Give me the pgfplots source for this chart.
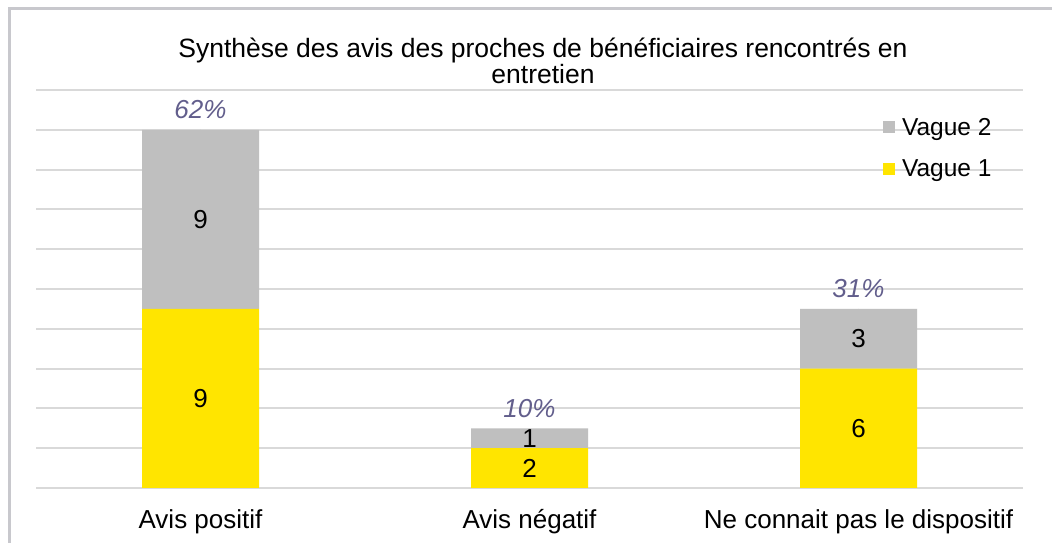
\documentclass[border=0pt]{standalone}
\usepackage{pgfplots}
\pgfplotsset{compat=1.18}
\usepackage{pgfplotstable}
\usepackage{fontspec}
\setmainfont{Liberation Sans}

\definecolor{vagueun}{RGB}{255,229,0}
\definecolor{vaguedeux}{RGB}{191,191,191}
\definecolor{gridgray}{RGB}{217,217,217}
\definecolor{framegray}{RGB}{200,200,205}
\definecolor{pctcolor}{RGB}{98,94,140}

% Effectifs par vague
\pgfplotstableread{
x v1 v2
0 9 9
1 2 1
2 6 3
}\effectifs

% Positions des etiquettes (milieu des segments)
\pgfplotstableread{
x y lab
0 4.5 9
1 1 2
2 3 6
0 13.5 9
1 2.5 1
2 7.5 3
}\etiquettes

% Totaux et parts
\pgfplotstableread{
x y lab
0 18 62\%
1 3 10\%
2 9 31\%
}\totaux

\begin{document}
\begin{tikzpicture}[x=1pt,y=1pt]
\useasboundingbox (0,0) rectangle (1052,543);
\fill[white] (0,0) rectangle (1052,543);
\draw[framegray, line width=3pt] (9,0) -- (9,534) -- (1052,534);

\node[align=center, font=\fontsize{26.5}{26.5}\selectfont] at (543,482)
  {Synthèse des avis des proches de bénéficiaires rencontrés en\\entretien};

\begin{axis}[
  at={(36pt,55pt)}, anchor=south west,
  scale only axis, width=987pt, height=398pt,
  ybar stacked, bar width=117pt,
  xmin=-0.5, xmax=2.5, ymin=0, ymax=20,
  xtick={0,1,2},
  xticklabels={Avis positif, Avis négatif, Ne connait pas le dispositif},
  ytick={0,2,...,20}, yticklabels={},
  ymajorgrids,
  major grid style={gridgray, line width=2pt},
  axis line style={draw=none},
  major tick length=0pt,
  tick label style={font=\fontsize{26}{28}\selectfont},
  xticklabel style={yshift=-18pt},
  reverse legend,
  legend style={at={(0.858,0.935)}, anchor=north west, draw=none, fill=none,
    inner sep=0pt, row sep=19pt, font=\fontsize{24.5}{26}\selectfont,
    /tikz/every odd column/.append style={column sep=5pt}},
  legend image code/.code={\fill[#1] (0pt,-6pt) rectangle (12pt,6pt);},
]
\addplot[fill=vagueun, draw=none] table[x=x, y=v1] {\effectifs};
\addlegendentry{Vague 1}
\addplot[fill=vaguedeux, draw=none] table[x=x, y=v2] {\effectifs};
\addlegendentry{Vague 2}
\end{axis}

\begin{axis}[
  at={(36pt,55pt)}, anchor=south west,
  scale only axis, width=987pt, height=398pt,
  xmin=-0.5, xmax=2.5, ymin=0, ymax=20,
  hide axis, clip=false,
]
\addplot[only marks, mark=*, mark size=0pt, mark options={draw=none, fill=none},
  nodes near coords, point meta=explicit symbolic,
  every node near coord/.style={anchor=center, font=\fontsize{26}{28}\selectfont, text=black}]
  table[x=x, y=y, meta=lab] {\etiquettes};
\addplot[only marks, mark=*, mark size=0pt, mark options={draw=none, fill=none},
  nodes near coords, point meta=explicit symbolic,
  every node near coord/.style={anchor=base, yshift=11pt, font=\fontsize{26}{28}\selectfont\itshape, text=pctcolor}]
  table[x=x, y=y, meta=lab] {\totaux};
\end{axis}
\end{tikzpicture}
\end{document}
